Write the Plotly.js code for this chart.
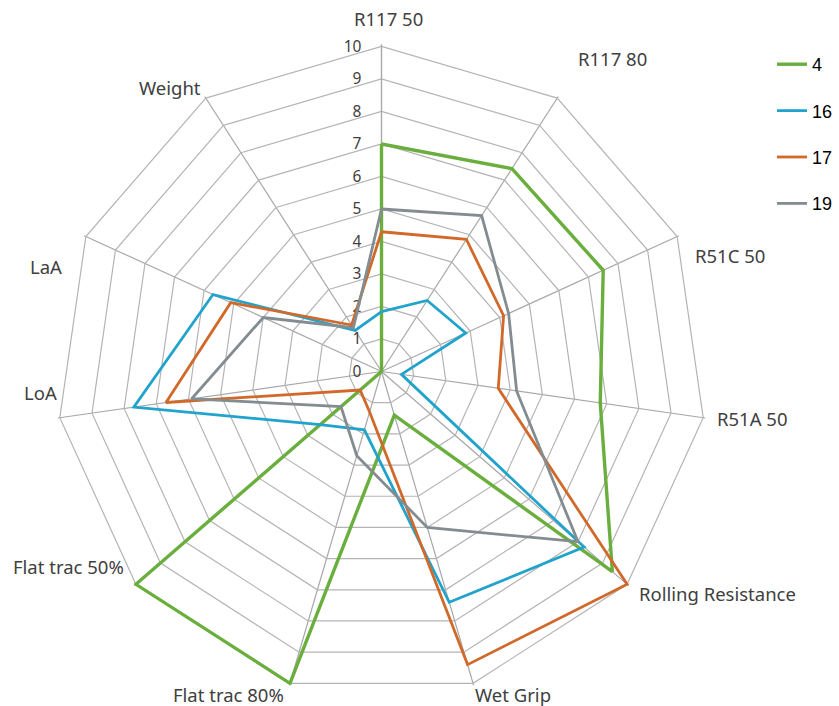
<!DOCTYPE html>
<html>
<head>
<meta charset="utf-8">
<script src="https://cdn.plot.ly/plotly-3.0.1.min.js"></script>
<style>html,body{margin:0;padding:0;background:#fff;}#chart{width:839px;height:706px;}</style>
</head>
<body>
<div id="chart"></div>
<script>
const categories = ["R117 50", "R117 80", "R51C 50", "R51A 50", "Rolling Resistance", "Wet Grip", "Flat trac 80%", "Flat trac 50%", "LoA", "LaA", "Weight"];
const seriesNames = ["4", "16", "17", "19"];
const values4  = [7.0, 7.42, 7.5, 6.8, 9.4, 1.4, 10, 10, 0, 0, 0];
const values16 = [1.84, 2.6, 2.85, 0.62, 8.25, 7.4, 1.87, 2.5, 7.7, 5.7, 1.5];
const values17 = [4.3, 4.83, 4.13, 3.63, 10, 9.4, 1.3, 0.87, 6.7, 5.1, 1.7];
const values19 = [5.0, 5.7, 4.3, 4.2, 8.0, 5.0, 2.7, 1.65, 5.9, 4.0, 1.6];
const radialTicks = [0, 1, 2, 3, 4, 5, 6, 7, 8, 9, 10];

const W = 839, H = 706;
const allValues = [values4, values16, values17, values19];
const colors = ["#6aaf3d", "#22a3cc", "#d0692a", "#838c90"];
const widths = [3.4, 2.8, 2.8, 2.8];

const traces = allValues.map((v, i) => ({
  type: "scatterpolar",
  mode: "lines",
  r: v.concat([v[0]]),
  theta: categories.concat([categories[0]]),
  name: seriesNames[i],
  legendgroup: "g" + i,
  cliponaxis: false,
  line: {color: colors[i], width: widths[i]},
  hoverinfo: "name+r+theta"
}));

// Category label placement (layout only, in page pixels), following the reference's label spots
const labelSpots = [[388, 18], [612, 58], [730, 255], [752, 418], [717, 593], [513, 694], [228, 694], [68, 566], [40, 392], [46, 266], [170, 88]];
const annotations = categories.map((c, i) => ({
  text: c,
  xref: "paper", yref: "paper",
  x: labelSpots[i][0] / W,
  y: 1 - labelSpots[i][1] / H,
  xanchor: "center", yanchor: "middle",
  showarrow: false,
  font: {size: 18.5, color: "#404040", family: "Noto Sans, sans-serif"}
}));

// polar area: centre (381.5, 371.5), ring 10 at 325 px; range slightly above 10 so edge lines are not clipped
const rMax = 10.06;
const Rpx = 325 * rMax / 10;
const cx = 381.5, cy = 371.5;

const layout = {
  width: W,
  height: H,
  margin: {l: 0, r: 0, t: 0, b: 0},
  paper_bgcolor: "#ffffff",
  font: {family: "Noto Sans, Open Sans, sans-serif", color: "#404040"},
  annotations: annotations,
  polar: {
    domain: {x: [(cx - Rpx) / W, (cx + Rpx) / W], y: [1 - (cy + Rpx) / H, 1 - (cy - Rpx) / H]},
    bgcolor: "#ffffff",
    gridshape: "linear",
    radialaxis: {
      range: [0, rMax],
      tickvals: radialTicks,
      ticktext: radialTicks.map(String),
      angle: 90,
      side: "counterclockwise",
      showline: true,
      linecolor: "#a8a8a8",
      linewidth: 1.2,
      gridcolor: "#b4b4b4",
      gridwidth: 1.2,
      ticks: "outside",
      ticklen: 14,
      tickcolor: "rgba(0,0,0,0)",
      layer: "below traces",
      tickfont: {size: 15.5, color: "#404040", family: "Noto Sans, sans-serif"},
      tickangle: 90
    },
    angularaxis: {
      direction: "clockwise",
      rotation: 90,
      showline: false,
      gridcolor: "#a8a8a8",
      gridwidth: 1.2,
      ticks: "",
      showticklabels: false,
      layer: "below traces"
    }
  },
  showlegend: true,
  legend: {
    x: 772/W,
    y: 1 - 46/H,
    xanchor: "left",
    yanchor: "top",
    traceorder: "grouped",
    tracegroupgap: 20,
    font: {size: 18, family: "Liberation Sans, Arial, sans-serif", color: "#000000"},
    bgcolor: "rgba(0,0,0,0)"
  }
};

Plotly.newPlot("chart", traces, layout, {displayModeBar: false, staticPlot: true});
</script>
</body>
</html>
